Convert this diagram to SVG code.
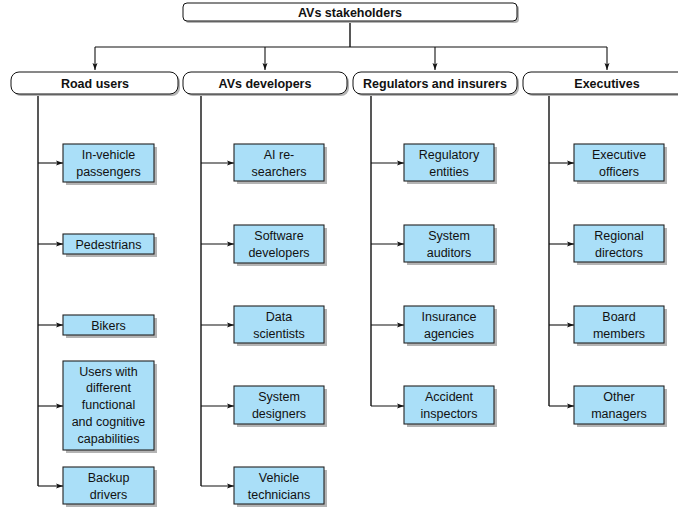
<svg xmlns="http://www.w3.org/2000/svg" width="678" height="508" viewBox="0 0 678 508">
<style>
text{font-family:"Liberation Sans",Arial,sans-serif;fill:#111;text-anchor:middle}
.h{font-weight:bold;font-size:12.5px}
.t{font-size:12.5px}
.root,.cat{fill:#fff;stroke:#111;stroke-width:1}
.leaf{fill:#aadff8;stroke:#222;stroke-width:1.1}
.sh{fill:#b4b4b4}
.c{fill:none;stroke:#111;stroke-width:1.1}
.tr{fill:none;stroke:#111;stroke-width:1.4}
</style>
<defs>
<marker id="a" markerWidth="8" markerHeight="6" refX="7" refY="3" orient="auto" markerUnits="userSpaceOnUse">
<path d="M0,0.5 L7,3 L0,5.5 L1.5,3 Z" fill="#111"/>
</marker>
</defs>
<g id="connectors">
<path class="tr" d="M350,21 V47"/>
<path class="c" d="M95,47 H607"/>
<path class="c" d="M95,47 V70" marker-end="url(#a)"/>
<path class="c" d="M265,47 V70" marker-end="url(#a)"/>
<path class="c" d="M435,47 V70" marker-end="url(#a)"/>
<path class="c" d="M607,47 V70" marker-end="url(#a)"/>
<path class="tr" d="M38,94 V486"/>
<path class="tr" d="M201,94 V486"/>
<path class="tr" d="M371,94 V406"/>
<path class="tr" d="M549,94 V406"/>
<path class="c" d="M38,163 H63" marker-end="url(#a)"/>
<path class="c" d="M38,244 H63" marker-end="url(#a)"/>
<path class="c" d="M38,325 H63" marker-end="url(#a)"/>
<path class="c" d="M38,406 H63" marker-end="url(#a)"/>
<path class="c" d="M38,486 H63" marker-end="url(#a)"/>
<path class="c" d="M201,163 H234" marker-end="url(#a)"/>
<path class="c" d="M201,244 H234" marker-end="url(#a)"/>
<path class="c" d="M201,325 H234" marker-end="url(#a)"/>
<path class="c" d="M201,406 H234" marker-end="url(#a)"/>
<path class="c" d="M201,486 H234" marker-end="url(#a)"/>
<path class="c" d="M371,163 H404" marker-end="url(#a)"/>
<path class="c" d="M371,244 H404" marker-end="url(#a)"/>
<path class="c" d="M371,325 H404" marker-end="url(#a)"/>
<path class="c" d="M371,406 H404" marker-end="url(#a)"/>
<path class="c" d="M549,163 H574" marker-end="url(#a)"/>
<path class="c" d="M549,244 H574" marker-end="url(#a)"/>
<path class="c" d="M549,325 H574" marker-end="url(#a)"/>
<path class="c" d="M549,406 H574" marker-end="url(#a)"/>
</g>
<g id="root">
<rect class="sh" x="185" y="5" width="334" height="18" rx="4"/>
<rect class="root" x="183" y="3" width="334" height="18" rx="4"/>
<text class="h" x="350" y="16.5">AVs stakeholders</text>
</g>
<g id="road-users">
<rect class="sh" x="13" y="74" width="167" height="22" rx="8"/>
<rect class="cat" x="11" y="72" width="167" height="22" rx="8"/>
<text class="h" x="95" y="87.5">Road users</text>
</g>
<g id="avs-developers">
<rect class="sh" x="185" y="74" width="164" height="22" rx="8"/>
<rect class="cat" x="183" y="72" width="164" height="22" rx="8"/>
<text class="h" x="265" y="87.5">AVs developers</text>
</g>
<g id="regulators">
<rect class="sh" x="355" y="74" width="164" height="22" rx="8"/>
<rect class="cat" x="353" y="72" width="164" height="22" rx="8"/>
<text class="h" x="435" y="87.5">Regulators and insurers</text>
</g>
<g id="executives">
<rect class="sh" x="525" y="74" width="168" height="22" rx="8"/>
<rect class="cat" x="523" y="72" width="168" height="22" rx="8"/>
<text class="h" x="607" y="87.5">Executives</text>
</g>
<g id="in-vehicle-passengers">
<rect class="sh" x="66" y="147" width="91" height="38"/>
<rect class="leaf" x="63" y="144" width="91" height="38"/>
<text class="t" x="108.5" y="159">In-vehicle</text>
<text class="t" x="108.5" y="176">passengers</text>
</g>
<g id="pedestrians">
<rect class="sh" x="66" y="237" width="91" height="20"/>
<rect class="leaf" x="63" y="234" width="91" height="20"/>
<text class="t" x="108.5" y="248.5">Pedestrians</text>
</g>
<g id="bikers">
<rect class="sh" x="66" y="318" width="91" height="20"/>
<rect class="leaf" x="63" y="315" width="91" height="20"/>
<text class="t" x="108.5" y="329.5">Bikers</text>
</g>
<g id="users-with-capabilities">
<rect class="sh" x="66" y="364" width="91" height="89"/>
<rect class="leaf" x="63" y="361" width="91" height="89"/>
<text class="t" x="108.5" y="375.5">Users with</text>
<text class="t" x="108.5" y="392.3">different</text>
<text class="t" x="108.5" y="409.1">functional</text>
<text class="t" x="108.5" y="425.9">and cognitive</text>
<text class="t" x="108.5" y="442.7">capabilities</text>
</g>
<g id="backup-drivers">
<rect class="sh" x="66" y="470" width="91" height="37"/>
<rect class="leaf" x="63" y="467" width="91" height="37"/>
<text class="t" x="108.5" y="482">Backup</text>
<text class="t" x="108.5" y="499">drivers</text>
</g>
<g id="ai-researchers">
<rect class="sh" x="237" y="147" width="90" height="37"/>
<rect class="leaf" x="234" y="144" width="90" height="37"/>
<text class="t" x="279" y="159">AI re-</text>
<text class="t" x="279" y="176">searchers</text>
</g>
<g id="software-developers">
<rect class="sh" x="237" y="228" width="90" height="38"/>
<rect class="leaf" x="234" y="225" width="90" height="38"/>
<text class="t" x="279" y="240">Software</text>
<text class="t" x="279" y="257">developers</text>
</g>
<g id="data-scientists">
<rect class="sh" x="237" y="309" width="90" height="37"/>
<rect class="leaf" x="234" y="306" width="90" height="37"/>
<text class="t" x="279" y="321">Data</text>
<text class="t" x="279" y="338">scientists</text>
</g>
<g id="system-designers">
<rect class="sh" x="237" y="389" width="90" height="38"/>
<rect class="leaf" x="234" y="386" width="90" height="38"/>
<text class="t" x="279" y="401">System</text>
<text class="t" x="279" y="418">designers</text>
</g>
<g id="vehicle-technicians">
<rect class="sh" x="237" y="470" width="90" height="37"/>
<rect class="leaf" x="234" y="467" width="90" height="37"/>
<text class="t" x="279" y="482">Vehicle</text>
<text class="t" x="279" y="499">technicians</text>
</g>
<g id="regulatory-entities">
<rect class="sh" x="407" y="147" width="90" height="37"/>
<rect class="leaf" x="404" y="144" width="90" height="37"/>
<text class="t" x="449" y="159">Regulatory</text>
<text class="t" x="449" y="176">entities</text>
</g>
<g id="system-auditors">
<rect class="sh" x="407" y="228" width="90" height="37"/>
<rect class="leaf" x="404" y="225" width="90" height="37"/>
<text class="t" x="449" y="240">System</text>
<text class="t" x="449" y="257">auditors</text>
</g>
<g id="insurance-agencies">
<rect class="sh" x="407" y="309" width="90" height="37"/>
<rect class="leaf" x="404" y="306" width="90" height="37"/>
<text class="t" x="449" y="321">Insurance</text>
<text class="t" x="449" y="338">agencies</text>
</g>
<g id="accident-inspectors">
<rect class="sh" x="407" y="389" width="90" height="38"/>
<rect class="leaf" x="404" y="386" width="90" height="38"/>
<text class="t" x="449" y="401">Accident</text>
<text class="t" x="449" y="418">inspectors</text>
</g>
<g id="executive-officers">
<rect class="sh" x="577" y="147" width="90" height="37"/>
<rect class="leaf" x="574" y="144" width="90" height="37"/>
<text class="t" x="619" y="159">Executive</text>
<text class="t" x="619" y="176">officers</text>
</g>
<g id="regional-directors">
<rect class="sh" x="577" y="228" width="90" height="37"/>
<rect class="leaf" x="574" y="225" width="90" height="37"/>
<text class="t" x="619" y="240">Regional</text>
<text class="t" x="619" y="257">directors</text>
</g>
<g id="board-members">
<rect class="sh" x="577" y="309" width="90" height="37"/>
<rect class="leaf" x="574" y="306" width="90" height="37"/>
<text class="t" x="619" y="321">Board</text>
<text class="t" x="619" y="338">members</text>
</g>
<g id="other-managers">
<rect class="sh" x="577" y="389" width="90" height="38"/>
<rect class="leaf" x="574" y="386" width="90" height="38"/>
<text class="t" x="619" y="401">Other</text>
<text class="t" x="619" y="418">managers</text>
</g>
</svg>
